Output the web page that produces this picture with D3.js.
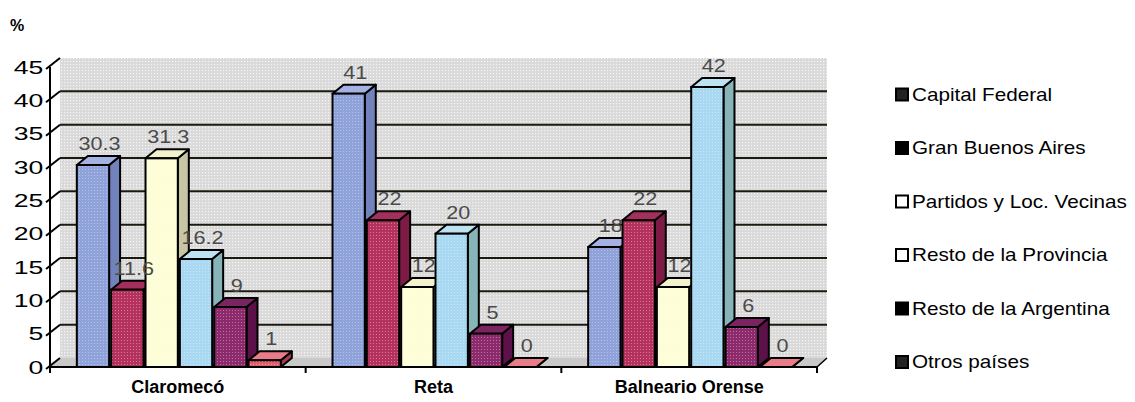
<!DOCTYPE html>
<html>
<head>
<meta charset="utf-8">
<script src="https://cdn.jsdelivr.net/npm/d3@7"></script>
<style>
  body { margin: 0; background: #fff; }
  svg { display: block; font-family: "Liberation Sans", Arial, sans-serif; }
</style>
</head>
<body>
<div id="chart"></div>
<script>
var categories = ["Claromecó", "Reta", "Balneario Orense"];
var seriesNames = ["Capital Federal", "Gran Buenos Aires", "Partidos y Loc. Vecinas",
  "Resto de la Provincia", "Resto de la Argentina", "Otros países"];

var capitalFederal = [30.3, 41, 18];
var granBuenosAires = [11.6, 22, 22];
var partidosVecinas = [31.3, 12, 12];
var restoProvincia = [16.2, 20, 42];
var restoArgentina = [9, 5, 6];
var otrosPaises = [1, 0, 0];

var yTicks = [0, 5, 10, 15, 20, 25, 30, 35, 40, 45];
var gridTicks = [5, 10, 15, 20, 25, 30, 35, 40];

var seriesValues = [capitalFederal, granBuenosAires, partidosVecinas,
  restoProvincia, restoArgentina, otrosPaises];

// front / side / top colours per series
var frontColors = ["#8fa2da", "#b5325f", "#fdfdd6", "#a9d9f2", "#8c2a6c", "#e0606e"];
var sideColors = ["#7282bb", "#7d1a45", "#c6c6a4", "#86b4b8", "#5c1248", "#a83c4c"];
var topColors = ["#a3b2e2", "#a42e5c", "#f2f2cc", "#bde2f2", "#7c2462", "#e87c88"];
var legendFill = ["#222", "#000", "#fff", "#fff", "#000", "#222"];

var svgWidth = 1135;
var svgHeight = 402;

var x0 = 50, x1 = 817;      // front x axis
var yBottom = 367, yTop = 67; // front y axis
var dx = 10, dy = 9;        // depth of the 3D wall
var bdx = 11, bdy = 9;      // depth of the bars

var svg = d3.select("#chart")
  .append("svg")
  .attr("width", svgWidth)
  .attr("height", svgHeight);

var defs = svg.append("defs");
var wallPat = defs.append("pattern")
  .attr("id", "wallDots")
  .attr("width", 3).attr("height", 3)
  .attr("patternUnits", "userSpaceOnUse");
wallPat.append("rect").attr("width", 3).attr("height", 3).attr("fill", "#d9d9d9");
wallPat.append("rect").attr("x", 1).attr("y", 1).attr("width", 1.2).attr("height", 1.2).attr("fill", "#f6f6f6");

var barPat = defs.append("pattern")
  .attr("id", "barDots")
  .attr("width", 3).attr("height", 3)
  .attr("patternUnits", "userSpaceOnUse");
barPat.append("rect").attr("x", 1).attr("y", 1).attr("width", 1).attr("height", 1)
  .attr("fill", "#fff").attr("opacity", 0.35);

var y = d3.scaleLinear()
  .domain([0, 45])
  .range([yBottom, yTop]);

var xBand = d3.scaleBand()
  .domain(categories)
  .range([x0, x1])
  .paddingInner(0)
  .paddingOuter(0);

var groupWidth = 204;
var xInner = d3.scaleBand()
  .domain(d3.range(seriesNames.length))
  .range([0, groupWidth])
  .paddingInner(0.06)
  .paddingOuter(0);

// back wall
svg.append("polygon")
  .attr("points", [[x0 + dx, y(45) - dy], [x1 + dx, y(45) - dy], [x1 + dx, y(0) - dy], [x0 + dx, y(0) - dy]].join(" "))
  .attr("fill", "url(#wallDots)");

// floor
svg.append("polygon")
  .attr("points", [[x0, y(0)], [x1, y(0)], [x1 + dx, y(0) - dy], [x0 + dx, y(0) - dy]].join(" "))
  .attr("fill", "#c9c9c9");

// gridlines on back wall
svg.append("g")
  .selectAll("line")
  .data(gridTicks)
  .enter()
  .append("line")
  .attr("x1", x0 + dx)
  .attr("x2", x1 + dx)
  .attr("y1", d => y(d) - dy)
  .attr("y2", d => y(d) - dy)
  .attr("stroke", "#1c1a10")
  .attr("stroke-width", 2);

// y axis
var leftAxis = d3.axisLeft(y).tickValues(yTicks).tickSize(0).tickPadding(4);
var yAxisG = svg.append("g")
  .attr("transform", `translate(${x0 - 1}, 0)`)
  .call(leftAxis);
yAxisG.select(".domain").remove();
yAxisG.selectAll("text")
  .attr("font-size", 19)
  .attr("font-family", "Liberation Sans, Arial, sans-serif")
  .attr("fill", "#000")
  .attr("transform", "scale(1.4,1)");

svg.append("line")
  .attr("x1", x0).attr("x2", x0)
  .attr("y1", y(45)).attr("y2", y(0))
  .attr("stroke", "#000").attr("stroke-width", 2);

// slanted ticks
svg.append("g")
  .selectAll("line")
  .data(yTicks)
  .enter()
  .append("line")
  .attr("x1", x0 - 4)
  .attr("y1", d => y(d) + 2)
  .attr("x2", x0 + dx)
  .attr("y2", d => y(d) - dy)
  .attr("stroke", "#000")
  .attr("stroke-width", 2);

// x axis
var bottomAxis = d3.axisBottom(xBand).tickSize(0).tickPadding(13);
var xAxisG = svg.append("g")
  .attr("transform", `translate(0, ${yBottom})`)
  .call(bottomAxis);
xAxisG.select(".domain").remove();
xAxisG.selectAll("text")
  .attr("font-size", 18)
  .attr("font-weight", "bold")
  .attr("font-family", "Liberation Sans, Arial, sans-serif")
  .attr("fill", "#000");

svg.append("line")
  .attr("x1", x0).attr("x2", x1)
  .attr("y1", yBottom).attr("y2", yBottom)
  .attr("stroke", "#000").attr("stroke-width", 2);

var boundaries = categories.map(c => xBand(c)).concat([x1]);
svg.append("g")
  .selectAll("line")
  .data(boundaries)
  .enter()
  .append("line")
  .attr("x1", d => d).attr("x2", d => d)
  .attr("y1", yBottom).attr("y2", yBottom + 6)
  .attr("stroke", "#000").attr("stroke-width", 2);

svg.append("line")
  .attr("x1", x1).attr("y1", yBottom)
  .attr("x2", x1 + dx).attr("y2", yBottom - dy)
  .attr("stroke", "#000").attr("stroke-width", 1.5);

// flatten data
var bars = [];
categories.forEach((c, ci) => {
  seriesValues.forEach((vals, si) => {
    var left = xBand(c) + (xBand.bandwidth() - groupWidth) / 2 + 1 + xInner(si);
    bars.push({ cat: c, s: si, v: vals[ci], left: left, right: left + xInner.bandwidth() });
  });
});

// bars
var barG = svg.append("g");
bars.forEach(d => {
  var g = barG.append("g");
  var top = y(d.v);
  var base = y(0);
  // side
  g.append("polygon")
    .attr("points", [[d.right, top], [d.right + bdx, top - bdy], [d.right + bdx, base - bdy], [d.right, base]].join(" "))
    .attr("fill", sideColors[d.s])
    .attr("stroke", "#000").attr("stroke-width", 2).attr("stroke-linejoin", "round");
  // top
  g.append("polygon")
    .attr("points", [[d.left, top], [d.right, top], [d.right + bdx, top - bdy], [d.left + bdx, top - bdy]].join(" "))
    .attr("fill", topColors[d.s])
    .attr("stroke", "#000").attr("stroke-width", 2).attr("stroke-linejoin", "round");
  // front
  if (d.v > 0) {
    g.append("rect")
      .attr("x", d.left).attr("y", top)
      .attr("width", d.right - d.left).attr("height", base - top)
      .attr("fill", frontColors[d.s])
      .attr("stroke", "#000").attr("stroke-width", 2);
    g.append("rect")
      .attr("x", d.left + 1).attr("y", top + 1)
      .attr("width", d.right - d.left - 2).attr("height", Math.max(0, base - top - 2))
      .attr("fill", "url(#barDots)");
  }
});

// value labels
svg.append("g")
  .selectAll("text")
  .data(bars)
  .enter()
  .append("text")
  .attr("transform", d => `translate(${(d.left + d.right) / 2 + bdx / 2 + 1}, ${y(d.v) - bdy - 6}) scale(1.2,1)`)
  .attr("text-anchor", "middle")
  .attr("font-size", 18)
  .attr("fill", "#4a4a4a")
  .text(d => d.v);

// % label
svg.append("text")
  .attr("x", 10).attr("y", 31)
  .attr("font-size", 16)
  .attr("font-weight", "bold")
  .text("%");

// legend
var legend = svg.append("g")
  .selectAll("g")
  .data(seriesNames)
  .enter()
  .append("g")
  .attr("transform", (d, i) => `translate(895, ${94.5 + i * 53.5})`);

legend.append("rect")
  .attr("x", 1).attr("y", -6)
  .attr("width", 12).attr("height", 12)
  .attr("fill", (d, i) => legendFill[i])
  .attr("stroke", "#000").attr("stroke-width", 2);

legend.append("text")
  .attr("transform", "translate(17, 6) scale(1.15,1)")
  .attr("font-size", 18)
  .attr("fill", "#000")
  .text(d => d);
</script>
</body>
</html>
